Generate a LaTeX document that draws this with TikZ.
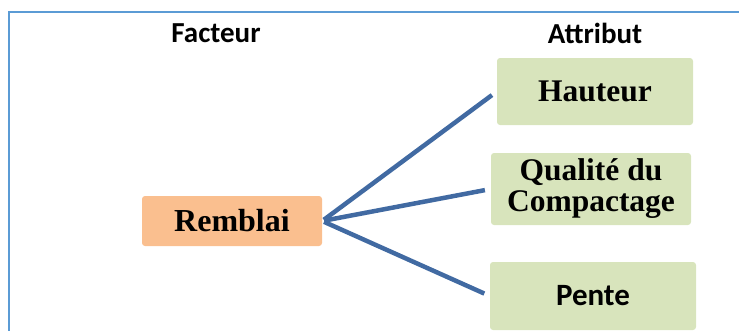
\documentclass[tikz,border=0pt]{standalone}
\usepackage{fontspec}
\setmainfont{Liberation Serif}
\newfontfamily\calibfont{Carlito}
\usetikzlibrary{calc}

\definecolor{frameblue}{RGB}{91,155,213}
\definecolor{linkblue}{RGB}{65,106,162}
\definecolor{facorange}{RGB}{250,191,143}
\definecolor{attgreen}{RGB}{216,228,188}

\begin{document}
\begin{tikzpicture}[x=1pt, y=-1pt]
  % picture measured in pixels, y grows downwards
  \useasboundingbox (0,0) rectangle (739,330);
  \draw[frameblue, line width=2pt] (9,12) rectangle (760,360);
  \tikzset{
    facbox/.style={fill=facorange, rounded corners=3pt, inner sep=0pt,
      font=\fontsize{32}{32}\selectfont\bfseries},
    attbox/.style={fill=attgreen, rounded corners=3pt, inner sep=0pt,
      align=center, font=\fontsize{31.5}{31}\selectfont\bfseries},
    link/.style={linkblue, line width=4.5pt, shorten >=6pt, shorten <=2pt}
  }
  \node[font=\calibfont\fontsize{29}{29}\selectfont\bfseries] (facteur) at (216,33) {Facteur};
  \node[font=\calibfont\fontsize{29}{29}\selectfont\bfseries] (attribut) at (595,33) {Attribut};
  \node[facbox, minimum width=180, minimum height=50] (remblai) at (232,221) {Remblai};
  \node[attbox, minimum width=196, minimum height=67] (hauteur) at (595,91.5) {Hauteur};
  \node[attbox, minimum width=200, minimum height=72] (qualite) at (591,189) {Qualité du\\Compactage};
  \node[attbox, minimum width=206, minimum height=68,
    font=\calibfont\fontsize{31}{31}\selectfont\bfseries] (pente) at (593,296) {Pente};
  \draw[link] (remblai.east) -- (hauteur.west);
  \draw[link] (remblai.east) -- (qualite.west);
  \draw[link] (remblai.east) -- (pente.west);
\end{tikzpicture}
\end{document}
